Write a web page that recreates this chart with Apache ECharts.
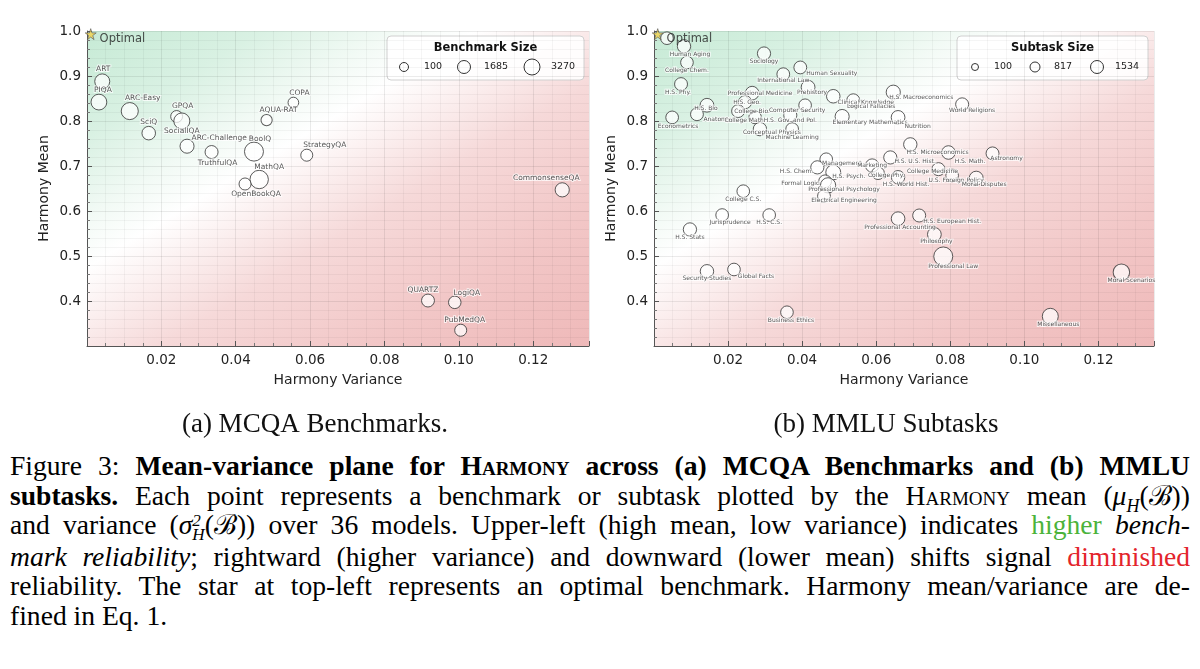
<!DOCTYPE html>
<html>
<head>
<meta charset="utf-8">
<script src="https://cdn.jsdelivr.net/npm/echarts/dist/echarts.min.js"></script>
<style>
body { margin: 0; background: #fff; }
#main { width: 1200px; height: 445px; }
#cap { margin: 6px 10px 0 10px; font-family: "Liberation Serif", "Times New Roman", "DejaVu Serif", serif; font-size: 27.6px; line-height: 29.6px; color: #000; }
#cap div { text-align: justify; text-align-last: justify; }
#cap div.last { text-align-last: left; }
#cap sub, #cap sup { line-height: 0; font-size: 0.65em; }
.sc { font-variant: small-caps; }
.ss { display: inline-block; vertical-align: -0.35em; line-height: 0.8; font-size: 0.62em; font-style: italic; }
.g { color: #4bb33a; }
.r { color: #e3242b; }
</style>
</head>
<body>
<div id="main"></div>
<div id="cap">
  <div>Figure 3: <b>Mean-variance plane for <span class="sc">Harmony</span> across (a) MCQA Benchmarks and (b) MMLU</b></div>
  <div><b>subtasks.</b> Each point represents a benchmark or subtask plotted by the <span class="sc">Harmony</span> mean (<i>μ<sub>H</sub></i>(ℬ))</div>
  <div>and variance (<i>σ</i><span class="ss">2<br>H</span>(ℬ)) over 36 models. Upper-left (high mean, low variance) indicates <span class="g">higher</span> <i>bench-</i></div>
  <div><i>mark reliability</i>; rightward (higher variance) and downward (lower mean) shifts signal <span class="r">diminished</span></div>
  <div>reliability. The star at top-left represents an optimal benchmark. Harmony mean/variance are de-</div>
  <div class="last">fined in Eq. 1.</div>
</div>
<script>
// (a) MCQA benchmarks: variance, mean, size
const mcqaNames = ['ART', 'PIQA', 'ARC-Easy', 'SciQ', 'GPQA', 'SocialIQA', 'ARC-Challenge', 'TruthfulQA', 'BoolQ',
  'MathQA', 'OpenBookQA', 'AQUA-RAT', 'COPA', 'StrategyQA', 'CommonsenseQA', 'QUARTZ', 'LogiQA', 'PubMedQA'];
const mcqaVar = [0.0041, 0.0032, 0.0115, 0.0166, 0.0241, 0.0255, 0.0269, 0.0335, 0.0449,
  0.0463, 0.0425, 0.0483, 0.0555, 0.0591, 0.1278, 0.0917, 0.0989, 0.1005];
const mcqaMean = [0.888, 0.842, 0.822, 0.773, 0.810, 0.800, 0.744, 0.731, 0.732,
  0.670, 0.660, 0.802, 0.841, 0.724, 0.647, 0.401, 0.397, 0.335];
const mcqaSize = [1530, 1840, 2380, 1000, 450, 1950, 1170, 820, 3270,
  2990, 500, 250, 100, 490, 1220, 780, 650, 500];

// (b) MMLU subtasks
const mmluNames = ['', 'Human Aging', 'College Chem.', 'H.S. Phy.', 'H.S. Bio', 'Anatomy', 'Econometrics',
  'Professional Medicine', 'H.S. Geo.', 'College Bio.', 'College Math.', 'H.S. Gov. and Pol.', 'Conceptual Physics',
  'Machine Learning', 'Sociology', 'International Law', 'Human Sexuality', 'Prehistory', 'Computer Security',
  'Clinical Knowledge', 'Logical Fallacies', 'Elementary Mathematics', 'H.S. Macroeconomics', 'Nutrition',
  'World Religions', 'H.S. Microeconomics', 'H.S. U.S. Hist.', 'H.S. World Hist.', 'H.S. Math.', 'Astronomy',
  'College Medicine', 'U.S. Foreign Policy', 'Moral Disputes', 'Management', 'H.S. Chem.', 'H.S. Psych.',
  'Formal Logic', 'Professional Psychology', 'Electrical Engineering', 'Marketing', 'College Phy.', 'College C.S.',
  'Jurisprudence', 'H.S. C.S.', 'H.S. Stats', 'Security Studies', 'Global Facts', 'Business Ethics',
  'Professional Accounting', 'H.S. European Hist.', 'Philosophy', 'Professional Law', 'Moral Scenarios', 'Miscellaneous'];
const mmluVar = [0.0035, 0.0081, 0.0089, 0.0073, 0.0143, 0.0116, 0.0049,
  0.0265, 0.0246, 0.0227, 0.0273, 0.0368, 0.0286,
  0.0373, 0.0297, 0.0349, 0.0395, 0.0416, 0.0408,
  0.0484, 0.0538, 0.0508, 0.0646, 0.0659,
  0.0832, 0.0692, 0.0638, 0.0659, 0.0795, 0.0914,
  0.0768, 0.0805, 0.0870, 0.0465, 0.0441, 0.0484,
  0.0462, 0.0470, 0.0459, 0.0589, 0.0605, 0.0241,
  0.0184, 0.0311, 0.0097, 0.0143, 0.0216, 0.0359,
  0.0659, 0.0716, 0.0757, 0.0781, 0.1262, 0.1070];
const mmluMean = [0.984, 0.966, 0.930, 0.882, 0.835, 0.815, 0.808,
  0.862, 0.842, 0.822, 0.808, 0.813, 0.782,
  0.782, 0.950, 0.904, 0.919, 0.875, 0.835,
  0.855, 0.846, 0.810, 0.864, 0.808,
  0.837, 0.748, 0.719, 0.675, 0.730, 0.728,
  0.693, 0.679, 0.673, 0.715, 0.697, 0.686,
  0.666, 0.657, 0.633, 0.701, 0.684, 0.644,
  0.591, 0.591, 0.559, 0.466, 0.470, 0.375,
  0.583, 0.590, 0.548, 0.499, 0.464, 0.366];
const mmluSize = [100, 223, 100, 151, 310, 135, 114,
  272, 198, 144, 100, 193, 235,
  112, 201, 121, 131, 324, 100,
  265, 163, 378, 390, 306,
  171, 238, 204, 237, 270, 152,
  173, 100, 346, 103, 203, 545,
  126, 612, 145, 234, 102, 100,
  108, 100, 216, 245, 100, 100,
  282, 165, 311, 1534, 895, 783];

const optimalPoint = [0.001, 0.993];
const xTicks = [0.02, 0.04, 0.06, 0.08, 0.10, 0.12];
const yTicks = [0.4, 0.5, 0.6, 0.7, 0.8, 0.9, 1.0];

// label placement: [position, dx, dy]
const mcqaLabelPos = {
  'ART': ['top', 1, 1], 'PIQA': ['top', 4, 1], 'ARC-Easy': ['top', 13, 1], 'SciQ': ['top', 0, 1],
  'GPQA': ['top', 6, 1], 'SocialIQA': ['bottom', 0, -3], 'ARC-Challenge': ['right', -4, -8],
  'TruthfulQA': ['bottom', 6, -1], 'BoolQ': ['top', 6, 2], 'MathQA': ['top', 10, 2],
  'OpenBookQA': ['bottom', 11, -1], 'AQUA-RAT': ['top', 12, 1], 'COPA': ['top', 6, 1],
  'StrategyQA': ['top', 18, 1], 'CommonsenseQA': ['top', -16, 1], 'QUARTZ': ['top', -5, 1],
  'LogiQA': ['top', 12, 2], 'PubMedQA': ['top', 4, 1]
};
const mmluLabelPos = {
  'Human Aging': ['bottom', 6, -3], 'College Chem.': ['bottom', 0, -3], 'H.S. Phy.': ['bottom', -3, -3],
  'H.S. Bio': ['bottom', -1, -8], 'Anatomy': ['bottom', 20, -6], 'Econometrics': ['bottom', 6, -2],
  'Professional Medicine': ['inside', 8, 0], 'H.S. Geo.': ['inside', 2, 0], 'College Bio.': ['inside', 14, 0],
  'College Math.': ['inside', -10, 3], 'H.S. Gov. and Pol.': ['inside', 0, 5], 'Conceptual Physics': ['inside', 12, 3],
  'Machine Learning': ['bottom', 0, -3], 'Sociology': ['bottom', 0, -3], 'International Law': ['bottom', 0, -5],
  'Human Sexuality': ['right', -2, 6], 'Prehistory': ['bottom', 4, -6], 'Computer Security': ['bottom', -8, -6],
  'Clinical Knowledge': ['right', -4, 6], 'Logical Fallacies': ['bottom', 18, -5],
  'Elementary Mathematics': ['bottom', 28, -6], 'H.S. Macroeconomics': ['bottom', 28, -6],
  'Nutrition': ['right', -2, 9], 'World Religions': ['bottom', 10, -5], 'H.S. Microeconomics': ['right', -12, 8],
  'H.S. U.S. Hist.': ['right', -4, 4], 'H.S. World Hist.': ['bottom', 8, -4], 'H.S. Math.': ['right', -2, 9],
  'Astronomy': ['bottom', 14, -6], 'College Medicine': ['inside', -6, 2], 'U.S. Foreign Policy': ['bottom', 4, -6],
  'Moral Disputes': ['bottom', 8, -5], 'Management': ['right', -12, 4], 'H.S. Chem.': ['left', 4, 4],
  'H.S. Psych.': ['right', -10, 4], 'Formal Logic': ['left', 2, 2], 'Professional Psychology': ['bottom', 16, -8],
  'Electrical Engineering': ['bottom', 20, -7], 'Marketing': ['inside', 0, 0], 'College Phy.': ['inside', 8, 2],
  'College C.S.': ['bottom', 0, -3], 'Jurisprudence': ['bottom', 8, -3], 'H.S. C.S.': ['bottom', 0, -3],
  'H.S. Stats': ['bottom', 0, -3], 'Security Studies': ['bottom', 0, -4], 'Global Facts': ['right', -4, 7],
  'Business Ethics': ['bottom', 4, -3], 'Professional Accounting': ['bottom', 2, -3],
  'H.S. European Hist.': ['right', -4, 6], 'Philosophy': ['bottom', 2, -4], 'Professional Law': ['bottom', 10, -4],
  'Moral Scenarios': ['bottom', 10, -4], 'Miscellaneous': ['bottom', 8, -4]
};

const FONT = '"DejaVu Sans", sans-serif';
const starPath = 'path://M50,0 L61,35 L98,35 L68,57 L79,91 L50,70 L21,91 L32,57 L2,35 L39,35 Z';

function buildData(names, xs, ys, sizes, placement) {
  return names.map(function (n, i) {
    const p = placement[n] || ['bottom', 0, 0];
    return {
      name: n,
      value: [xs[i], ys[i], sizes[i]],
      label: { position: p[0], offset: [p[1], p[2]] }
    };
  });
}

const bg = {
  type: 'linear', x: 0, y: 0, x2: 0.55, y2: 1.44,
  colorStops: [
    { offset: 0, color: '#c6eAd5' },
    { offset: 0.17, color: '#d9f1e3' },
    { offset: 0.3, color: '#f2faf5' },
    { offset: 0.38, color: '#ffffff' },
    { offset: 0.47, color: '#fbeeee' },
    { offset: 0.58, color: '#f6d9d9' },
    { offset: 0.78, color: '#f2c7c7' },
    { offset: 1, color: '#efb9b9' }
  ]
};

function xAxisFor(idx) {
  return {
    type: 'value', gridIndex: idx, min: 0, max: 0.135, interval: 0.02,
    name: 'Harmony Variance', nameLocation: 'middle', nameGap: 27,
    nameTextStyle: { fontSize: 14, color: '#222', fontFamily: FONT },
    axisLine: { show: true, lineStyle: { color: '#555', width: 1 } },
    axisTick: { show: true, inside: true, length: 5, lineStyle: { color: '#555' } },
    minorTick: { show: true, splitNumber: 4, length: 3, lineStyle: { color: '#777' } },
    splitLine: { show: true, lineStyle: { color: 'rgba(0,0,0,0.08)' } },
    minorSplitLine: { show: true, lineStyle: { color: 'rgba(0,0,0,0.04)' } },
    axisLabel: {
      fontSize: 13.5, color: '#222', fontFamily: FONT, margin: 7,
      formatter: function (v) {
        return xTicks.some(function (t) { return Math.abs(t - v) < 1e-6; }) ? v.toFixed(2) : '';
      }
    }
  };
}

function yAxisFor(idx) {
  return {
    type: 'value', gridIndex: idx, min: 0.3, max: 1.0, interval: 0.1,
    name: 'Harmony Mean', nameLocation: 'middle', nameGap: 36,
    nameTextStyle: { fontSize: 14, color: '#222', fontFamily: FONT },
    axisLine: { show: true, lineStyle: { color: '#555', width: 1 } },
    axisTick: { show: true, inside: true, length: 5, lineStyle: { color: '#555' } },
    minorTick: { show: true, splitNumber: 5, length: 3, lineStyle: { color: '#777' } },
    splitLine: { show: true, lineStyle: { color: 'rgba(0,0,0,0.08)' } },
    minorSplitLine: { show: true, lineStyle: { color: 'rgba(0,0,0,0.04)' } },
    axisLabel: {
      fontSize: 13.5, color: '#222', fontFamily: FONT, margin: 6,
      formatter: function (v) {
        return yTicks.some(function (t) { return Math.abs(t - v) < 1e-6; }) ? v.toFixed(1) : '';
      }
    }
  };
}

function bubbleSeries(idx, data, sizeFn, fontSize) {
  return {
    type: 'scatter', xAxisIndex: idx, yAxisIndex: idx, data: data,
    symbol: 'circle',
    symbolSize: function (v) { return sizeFn(v[2]); },
    itemStyle: { color: 'rgba(255,255,255,0.92)', borderColor: '#333', borderWidth: 1 },
    label: {
      show: true, formatter: '{b}', fontSize: fontSize, color: '#2a2a2a', fontFamily: FONT,
      distance: 1, textBorderColor: 'rgba(255,255,255,0.9)', textBorderWidth: 2
    },
    emphasis: { disabled: true },
    silent: true, animation: false, z: 3
  };
}

function starSeries(idx) {
  return {
    type: 'scatter', xAxisIndex: idx, yAxisIndex: idx, data: [optimalPoint],
    symbol: starPath, symbolSize: 11,
    itemStyle: { color: '#f2d24b', borderColor: '#555', borderWidth: 0.8 },
    label: {
      show: true, formatter: 'Optimal', position: 'right', offset: [0, 5], distance: 3,
      fontSize: 11.5, color: '#222', fontFamily: FONT
    },
    emphasis: { disabled: true }, silent: true, animation: false, z: 5
  };
}

function legendBox(x, y, w, h, title, vals, circles) {
  const els = [
    { type: 'rect', shape: { x: x, y: y, width: w, height: h, r: 4 },
      style: { fill: 'rgba(255,255,255,0.9)', stroke: '#d0d0d0', lineWidth: 1 } },
    { type: 'text', style: { text: title, x: x + w / 2, y: y + 12.5, fill: '#111',
      font: 'bold 11.5px ' + FONT, align: 'center', verticalAlign: 'middle' } }
  ];
  vals.forEach(function (v, i) {
    const c = circles[i];
    els.push({ type: 'circle', shape: { cx: c[0], cy: y + 31, r: c[1] },
      style: { fill: '#fff', stroke: '#333', lineWidth: 1 } });
    els.push({ type: 'text', style: { text: String(v), x: c[2], y: y + 31, fill: '#222',
      font: '9.5px ' + FONT, align: 'center', verticalAlign: 'middle' } });
  });
  return els;
}

const chart = echarts.init(document.getElementById('main'));

chart.setOption({
  animation: false,
  textStyle: { fontFamily: FONT },
  title: [
    { text: '(a) MCQA Benchmarks.', left: 310, top: 406, textAlign: 'center',
      textStyle: { fontFamily: '"Liberation Serif", serif', fontSize: 27, fontWeight: 'normal', color: '#111' } },
    { text: '(b) MMLU Subtasks', left: 881, top: 406, textAlign: 'center',
      textStyle: { fontFamily: '"Liberation Serif", serif', fontSize: 27, fontWeight: 'normal', color: '#111' } }
  ],
  grid: [
    { left: 87, top: 31, width: 502, height: 315, show: true, borderWidth: 0, backgroundColor: bg },
    { left: 654, top: 31, width: 500, height: 315, show: true, borderWidth: 0, backgroundColor: bg }
  ],
  xAxis: [xAxisFor(0), xAxisFor(1)],
  yAxis: [yAxisFor(0), yAxisFor(1)],
  series: [
    bubbleSeries(0, buildData(mcqaNames, mcqaVar, mcqaMean, mcqaSize, mcqaLabelPos),
      function (s) { return Math.sqrt(106 + 0.078 * s); }, 7.5),
    starSeries(0),
    bubbleSeries(1, buildData(mmluNames, mmluVar, mmluMean, mmluSize, mmluLabelPos),
      function (s) { return Math.sqrt(146 + 0.14 * s); }, 6),
    starSeries(1)
  ],
  graphic: legendBox(387, 36, 197, 44, 'Benchmark Size', [100, 1685, 3270],
      [[404, 4.5, 433], [464, 6.5, 496], [532, 8, 563]])
    .concat(legendBox(957, 36, 191, 44, 'Subtask Size', [100, 817, 1534],
      [[975, 3.5, 1003], [1035, 5, 1063], [1097, 6.5, 1127]]))
});
</script>
</body>
</html>
